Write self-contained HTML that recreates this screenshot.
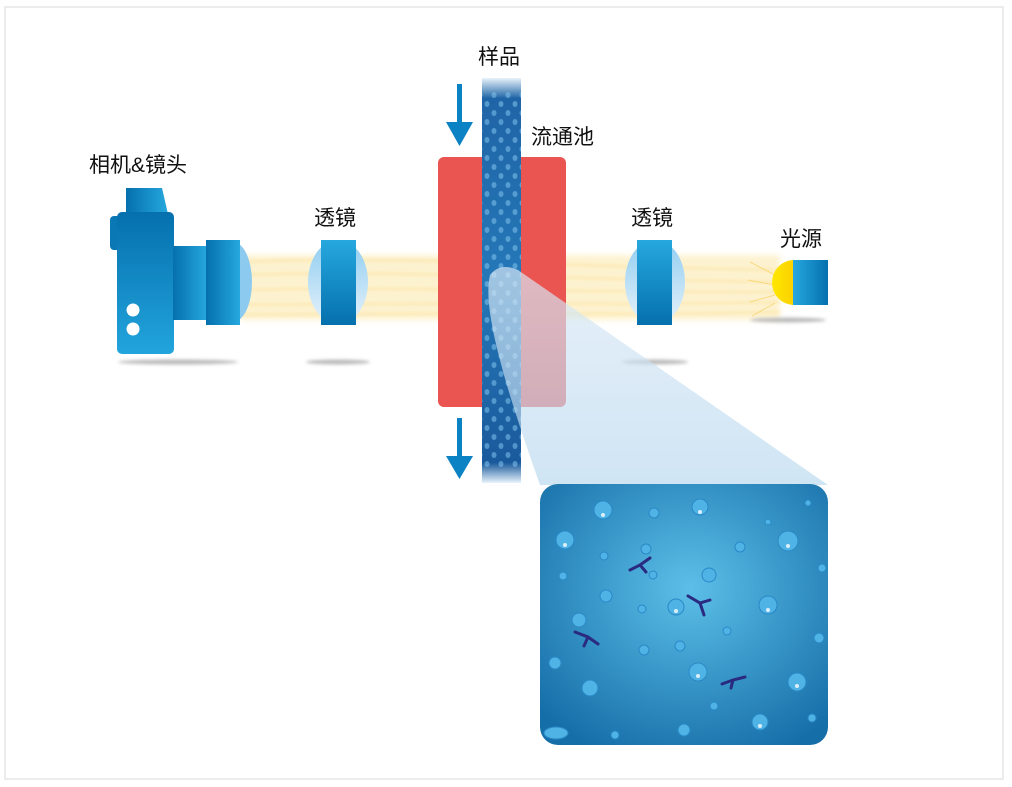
<!DOCTYPE html>
<html><head><meta charset="utf-8"><style>
html,body{margin:0;padding:0;background:#fff;}
svg{display:block}
text{font-family:"Liberation Sans","Noto Sans CJK SC",sans-serif;font-size:21px;fill:#111;}
</style></head><body>
<svg width="1012" height="787" viewBox="0 0 1012 787" xmlns="http://www.w3.org/2000/svg">
<defs>
<linearGradient id="bv" x1="0" y1="0" x2="0" y2="1"><stop offset="0" stop-color="#26a8de"/><stop offset="1" stop-color="#0570ad"/></linearGradient>
<linearGradient id="bvc" x1="0" y1="0" x2="0" y2="1"><stop offset="0" stop-color="#0570ad"/><stop offset="1" stop-color="#22a4dc"/></linearGradient>
<linearGradient id="bh" x1="0" y1="0" x2="1" y2="0"><stop offset="0" stop-color="#0570ad"/><stop offset="1" stop-color="#26a8de"/></linearGradient>
<linearGradient id="bh2" x1="0" y1="0" x2="1" y2="0"><stop offset="0" stop-color="#26a8de"/><stop offset="1" stop-color="#0570ad"/></linearGradient>
<linearGradient id="lensE" x1="0" y1="0" x2="0" y2="1"><stop offset="0" stop-color="#8fcdf0"/><stop offset="1" stop-color="#e6f2fb"/></linearGradient>
<linearGradient id="yel" x1="0" y1="0" x2="1" y2="0"><stop offset="0" stop-color="#ffe800"/><stop offset="1" stop-color="#f5b800"/></linearGradient>
<linearGradient id="beam" x1="0" y1="0" x2="0" y2="1"><stop offset="0" stop-color="#dceaf6" stop-opacity="0.9"/><stop offset="1" stop-color="#b5d6ee" stop-opacity="0.85"/></linearGradient>
<radialGradient id="zoomg" cx="0.52" cy="0.4" r="0.7"><stop offset="0" stop-color="#5cbfe8"/><stop offset="1" stop-color="#166ea8"/></radialGradient>
<linearGradient id="chan" x1="0" y1="0" x2="0" y2="1"><stop offset="0" stop-color="#e8f3fb"/><stop offset="0.05" stop-color="#1f64a6"/><stop offset="0.5" stop-color="#2578b8"/><stop offset="0.95" stop-color="#1a5a9c"/><stop offset="1" stop-color="#e8f3fb"/></linearGradient>
<filter id="bl"><feGaussianBlur stdDeviation="3"/></filter>
<filter id="bl2"><feGaussianBlur stdDeviation="1.5"/></filter>
<pattern id="dots" width="14" height="18" patternUnits="userSpaceOnUse"><ellipse cx="4" cy="5" rx="2.5" ry="3" fill="#7fc3ec" opacity="0.55"/><ellipse cx="11" cy="14" rx="2.5" ry="3" fill="#7fc3ec" opacity="0.55"/></pattern>
</defs>
<rect x="5" y="7" width="998" height="772" fill="#fff" stroke="#ececec" stroke-width="2"/>

<g filter="url(#bl)" opacity="0.85">
<rect x="240" y="255" width="540" height="65" fill="#fdf0c8"/>
</g>
<g stroke="#fbe3a0" stroke-width="2" fill="none" opacity="0.8" filter="url(#bl2)">
<path d="M240 262 C400 255 600 268 780 270"/><path d="M240 275 C400 270 600 280 780 282"/><path d="M240 290 C400 286 600 293 780 292"/><path d="M240 305 C400 302 600 306 780 302"/><path d="M240 315 C400 312 600 316 780 312"/>
</g>

<g fill="#bbb" filter="url(#bl2)">
<ellipse cx="178" cy="362" rx="60" ry="2.5"/><ellipse cx="338" cy="362" rx="32" ry="2.5"/><ellipse cx="655" cy="362" rx="33" ry="2.5"/><ellipse cx="788" cy="320" rx="38" ry="2.5"/>
</g>

<path d="M126 188 L162 188 L168 214 L126 214 Z" fill="url(#bh)"/>
<rect x="110" y="216" width="14" height="34" rx="4" fill="#0a78b5"/>
<rect x="117" y="212" width="57" height="142" rx="5" fill="url(#bvc)"/>
<rect x="173" y="246" width="34" height="74" fill="url(#bh)"/>
<ellipse cx="233" cy="282" rx="19" ry="40" fill="#8ccaf0"/>
<rect x="206" y="240" width="34" height="85" fill="url(#bh)"/>
<circle cx="133" cy="310" r="6.5" fill="#fff"/><circle cx="133" cy="329" r="6.5" fill="#fff"/>

<ellipse cx="338" cy="282" rx="30" ry="42" fill="url(#lensE)"/>
<rect x="321" y="240" width="35" height="85" fill="url(#bv)"/>
<ellipse cx="655" cy="282" rx="30" ry="42" fill="url(#lensE)"/>
<rect x="637" y="240" width="35" height="85" fill="url(#bv)"/>

<g stroke="#f8d060" stroke-width="1" opacity="0.7"><line x1="750" y1="262" x2="775" y2="275"/><line x1="748" y1="280" x2="775" y2="285"/><line x1="750" y1="302" x2="775" y2="295"/><line x1="752" y1="316" x2="775" y2="303"/></g>
<ellipse cx="794" cy="282.5" rx="22" ry="22.5" fill="url(#yel)"/>
<rect x="793" y="260" width="35" height="45" fill="url(#bh2)"/>

<rect x="438" y="157" width="128" height="250" rx="6" fill="#ea5552"/>
<rect x="482" y="78" width="39" height="405" fill="url(#chan)"/>
<rect x="482" y="90" width="39" height="380" fill="url(#dots)"/>

<path d="M490 275 Q500 262 518 270 L828 485 L540 485 Q510 400 500 360 Q484 300 490 275 Z" fill="url(#beam)" opacity="0.75"/>

<g fill="#0a82c4"><rect x="457" y="84" width="5" height="40"/><path d="M446 122 L473 122 L459.5 146 Z"/>
<rect x="457" y="418" width="5" height="40"/><path d="M446 456 L473 456 L459.5 479 Z"/></g>

<rect x="540" y="484" width="288" height="261" rx="18" fill="url(#zoomg)"/>
<g fill="#4fb3e6" stroke="#2a88c6" stroke-width="1">
<circle cx="603" cy="510" r="9"/><circle cx="565" cy="540" r="9"/><circle cx="700" cy="507" r="8"/><circle cx="788" cy="541" r="10"/><circle cx="768" cy="605" r="9"/><circle cx="709" cy="575" r="7"/><circle cx="676" cy="607" r="8"/><circle cx="590" cy="688" r="8"/><ellipse cx="556" cy="733" rx="12" ry="6"/><circle cx="698" cy="672" r="9"/><circle cx="797" cy="682" r="9"/><circle cx="760" cy="722" r="8"/><circle cx="684" cy="730" r="6"/><circle cx="579" cy="620" r="7"/><circle cx="606" cy="596" r="6"/><circle cx="642" cy="609" r="4"/><circle cx="740" cy="547" r="5"/><circle cx="646" cy="549" r="5"/><circle cx="604" cy="556" r="4"/><circle cx="555" cy="663" r="6"/><circle cx="680" cy="646" r="5"/><circle cx="615" cy="735" r="4"/><circle cx="714" cy="706" r="4"/><circle cx="812" cy="718" r="4"/><circle cx="819" cy="638" r="5"/><circle cx="654" cy="513" r="5"/><circle cx="563" cy="576" r="4"/><circle cx="822" cy="568" r="4"/><circle cx="653" cy="575" r="4"/><circle cx="644" cy="650" r="5"/><circle cx="727" cy="631" r="4"/><circle cx="768" cy="522" r="3"/><circle cx="808" cy="503" r="3"/>
</g>
<g fill="#fff" opacity="0.8"><circle cx="603" cy="515" r="2"/><circle cx="565" cy="545" r="2"/><circle cx="700" cy="512" r="2"/><circle cx="788" cy="546" r="2"/><circle cx="768" cy="610" r="2"/><circle cx="676" cy="611" r="2"/><circle cx="698" cy="676" r="2"/><circle cx="797" cy="686" r="2"/><circle cx="760" cy="726" r="2"/></g>
<g stroke="#2a2a80" stroke-width="3" fill="none" stroke-linecap="round">
<path d="M630 570 L640 565 L650 558 M640 565 L646 572"/>
<path d="M688 596 L700 603 L710 600 M700 603 L704 615"/>
<path d="M575 632 L588 637 L598 644 M588 637 L584 646"/>
<path d="M722 684 L733 680 L745 677 M733 680 L731 688"/>
</g>

<text x="478" y="64">样品</text>
<text x="531" y="144">流通池</text>
<text x="89" y="172">相机&amp;镜头</text>
<text x="314" y="225">透镜</text>
<text x="631" y="225">透镜</text>
<text x="780" y="246">光源</text>
</svg>
</body></html>
